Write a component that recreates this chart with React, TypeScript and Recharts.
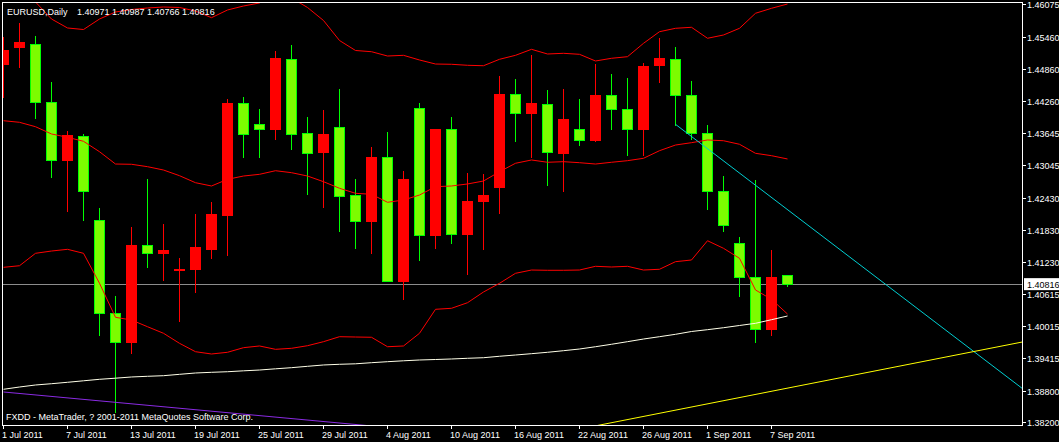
import React from 'react';
import { ComposedChart, Bar, Line, XAxis, YAxis, ReferenceLine } from 'recharts';

const dates = [
  '1 Jul 2011', '4 Jul 2011', '5 Jul 2011', '6 Jul 2011', '7 Jul 2011', '8 Jul 2011', '11 Jul 2011',
  '12 Jul 2011', '13 Jul 2011', '14 Jul 2011', '15 Jul 2011', '18 Jul 2011', '19 Jul 2011', '20 Jul 2011',
  '21 Jul 2011', '22 Jul 2011', '25 Jul 2011', '26 Jul 2011', '27 Jul 2011', '28 Jul 2011', '29 Jul 2011',
  '1 Aug 2011', '2 Aug 2011', '3 Aug 2011', '4 Aug 2011', '5 Aug 2011', '8 Aug 2011', '9 Aug 2011',
  '10 Aug 2011', '11 Aug 2011', '12 Aug 2011', '15 Aug 2011', '16 Aug 2011', '17 Aug 2011', '18 Aug 2011',
  '19 Aug 2011', '22 Aug 2011', '23 Aug 2011', '24 Aug 2011', '25 Aug 2011', '26 Aug 2011', '29 Aug 2011',
  '30 Aug 2011', '31 Aug 2011', '1 Sep 2011', '2 Sep 2011', '5 Sep 2011', '6 Sep 2011', '7 Sep 2011',
  '8 Sep 2011',
];

const opens = [
  1.44945, 1.45271, 1.4534, 1.44242, 1.43142, 1.43601, 1.42019, 1.40267, 1.39716, 1.41548,
  1.41397, 1.41073, 1.41088, 1.41478, 1.42105, 1.4421, 1.43827, 1.43726, 1.45052, 1.43658,
  1.43292, 1.43771, 1.42477, 1.41992, 1.43206, 1.40862, 1.44129, 1.41729, 1.4372, 1.41748,
  1.42369, 1.42633, 1.44393, 1.44027, 1.44204, 1.43274, 1.43733, 1.43513, 1.44374, 1.4411,
  1.43726, 1.44931, 1.45052, 1.44374, 1.43658, 1.42565, 1.41585, 1.40945, 1.39958, 1.40971,
];
const highs = [
  1.45472, 1.45742, 1.45497, 1.44619, 1.43696, 1.43639, 1.42245, 1.40593, 1.41893, 1.42797,
  1.41949, 1.41309, 1.42137, 1.42364, 1.44304, 1.44342, 1.44116, 1.45208, 1.45321, 1.43959,
  1.44097, 1.44487, 1.42797, 1.434, 1.43682, 1.42948, 1.44229, 1.43725, 1.43959, 1.42904,
  1.42891, 1.44737, 1.44675, 1.45133, 1.44474, 1.44492, 1.44304, 1.44963, 1.44775, 1.447,
  1.44982, 1.45453, 1.45284, 1.44643, 1.43809, 1.42853, 1.41704, 1.42778, 1.41459, 1.40987,
];
const lows = [
  1.44323, 1.44894, 1.43927, 1.42821, 1.42181, 1.42011, 1.39845, 1.38388, 1.39494, 1.41126,
  1.40881, 1.40108, 1.40655, 1.4129, 1.41352, 1.43198, 1.43198, 1.43537, 1.43349, 1.42501,
  1.42256, 1.41804, 1.41478, 1.4139, 1.4085, 1.40523, 1.41258, 1.41478, 1.41578, 1.40988,
  1.41465, 1.42143, 1.435, 1.43198, 1.42671, 1.42558, 1.43424, 1.435, 1.43726, 1.43236,
  1.43236, 1.44611, 1.43801, 1.43537, 1.42213, 1.41804, 1.40579, 1.39701, 1.39845, 1.40766,
];
const closes = [
  1.45227, 1.45365, 1.44234, 1.43142, 1.43607, 1.42558, 1.40267, 1.3972, 1.41553, 1.41397,
  1.41459, 1.41101, 1.41497, 1.42119, 1.4421, 1.43631, 1.43733, 1.45058, 1.43639, 1.43281,
  1.43626, 1.42471, 1.41992, 1.43193, 1.40862, 1.42778, 1.41729, 1.4372, 1.41748, 1.42382,
  1.42477, 1.44398, 1.44035, 1.4421, 1.43292, 1.43927, 1.43518, 1.44379, 1.4411, 1.43733,
  1.44907, 1.45058, 1.44366, 1.4365, 1.42558, 1.41917, 1.40937, 1.39958, 1.40945, 1.40816,
];

// bollinger bands as drawn on the chart
const bbUpper = [
  1.46659, 1.46565, 1.46132, 1.45811, 1.45642, 1.45613, 1.45811, 1.45943, 1.4599, 1.46019,
  1.46037, 1.46028, 1.45962, 1.45836, 1.45981, 1.46056, 1.46113, 1.4632, 1.46207, 1.46028,
  1.45783, 1.45406, 1.45218, 1.45195, 1.45114, 1.45127, 1.45039, 1.44963, 1.44958, 1.44939,
  1.44931, 1.45052, 1.45127, 1.4524, 1.45152, 1.45165, 1.45146, 1.4502, 1.45071, 1.45101,
  1.45353, 1.45572, 1.45636, 1.45655, 1.45448, 1.4551, 1.45636, 1.45919, 1.46013, 1.46094,
];
const bbMiddle = [
  1.43895, 1.43865, 1.43782, 1.43645, 1.43583, 1.43507, 1.43311, 1.43079, 1.43074, 1.43029,
  1.42966, 1.42859, 1.42727, 1.42665, 1.42791, 1.42853, 1.42885, 1.42953, 1.42916, 1.42853,
  1.42746, 1.42622, 1.42527, 1.42509, 1.42358, 1.42401, 1.42495, 1.42652, 1.42665, 1.42703,
  1.42759, 1.42934, 1.43093, 1.43155, 1.43112, 1.43123, 1.43104, 1.43079, 1.43112, 1.43142,
  1.43187, 1.4333, 1.43437, 1.43481, 1.43532, 1.43518, 1.43451, 1.43281, 1.43236, 1.43174,
];
const bbLower = [
  1.41133, 1.41163, 1.41397, 1.4144, 1.41472, 1.41397, 1.40832, 1.40191, 1.4014, 1.40014,
  1.3989, 1.39701, 1.39543, 1.395, 1.39532, 1.39619, 1.39651, 1.39588, 1.39607, 1.39656,
  1.39732, 1.39826, 1.3982, 1.39815, 1.39637, 1.39651, 1.3989, 1.40342, 1.40361, 1.40466,
  1.40668, 1.40832, 1.4102, 1.41082, 1.41077, 1.41077, 1.41082, 1.41152, 1.41139, 1.41152,
  1.41082, 1.41096, 1.41239, 1.41271, 1.41634, 1.41491, 1.41303, 1.40706, 1.4053, 1.40253,
];
const maSlow = [
  1.38835, 1.38878, 1.38916, 1.3894, 1.38967, 1.38995, 1.39023, 1.39044, 1.39067, 1.3908,
  1.39091, 1.39117, 1.39142, 1.39155, 1.39166, 1.39183, 1.39198, 1.39221, 1.39242, 1.39268,
  1.39293, 1.39306, 1.39315, 1.39336, 1.39355, 1.39372, 1.39387, 1.39396, 1.39406, 1.39419,
  1.3943, 1.39457, 1.39481, 1.39506, 1.39532, 1.39562, 1.39594, 1.39637, 1.39683, 1.39732,
  1.39782, 1.39826, 1.39871, 1.39924, 1.39958, 1.39995, 1.40037, 1.40078, 1.40146, 1.40216,
];

const priceTicks = [
  1.46075, 1.4546, 1.4486, 1.4426, 1.43645, 1.43045, 1.4243, 1.4183, 1.4123, 1.40615, 1.40015,
  1.39415, 1.388, 1.382,
];
const dateTicks = [0, 4, 8, 12, 16, 20, 24, 28, 32, 36, 40, 44, 48];
const bidPrice = 1.40816;

const cyanTrend = [{ x: 42, y: 1.43827 }, { x: 63.66, y: 1.38854 }];
const yellowTrend = [{ x: 37, y: 1.38146 }, { x: 63.66, y: 1.39725 }];
const purpleTrend = [{ x: 0, y: 1.38784 }, { x: 23, y: 1.38144 }];

const data = dates.map((date, i) => ({
  i,
  date,
  open: opens[i],
  high: highs[i],
  low: lows[i],
  close: closes[i],
  upper: bbUpper[i],
  middle: bbMiddle[i],
  lower: bbLower[i],
  ma: maSlow[i],
}));

const FONT = '"Liberation Sans", Arial, sans-serif';
const X_DOMAIN: [number, number] = [-0.09375, 63.65625];
const Y_DOMAIN: [number, number] = [1.381622, 1.461315];
const MARGIN = { top: 2, right: 0, bottom: 0, left: 2 };

const Candle = (props: any) => {
  const { x, y, width, height, payload } = props;
  const { open, close, high, low } = payload;
  const cx = x + width / 2;
  const py = (p: number) => (high === low ? y : y + ((high - p) / (high - low)) * height);
  const top = py(Math.max(open, close));
  const bot = py(Math.min(open, close));
  const down = close < open;
  const col = down ? '#00ff00' : '#ff0000';
  return (
    <g shapeRendering="crispEdges">
      <line x1={cx} x2={cx} y1={y} y2={y + height} stroke={col} strokeWidth={1} />
      {down ? (
        <rect x={cx - 5} y={top} width={10} height={Math.max(bot - top, 1)} fill="#7cfc00" stroke="#00ff00" strokeWidth={1} />
      ) : (
        <rect x={cx - 5.5} y={top - 0.5} width={11} height={Math.max(bot - top + 1, 1)} fill="#ff0000" />
      )}
    </g>
  );
};

const DateTick = (props: any) => {
  const { x, y, payload } = props;
  return (
    <text x={x - 1.5} y={y + 7} fill="#fff" fontSize={9} fontFamily={FONT} textAnchor="start">
      {dates[payload.value]}
    </text>
  );
};

const PriceTick = (props: any) => {
  const { x, y, payload } = props;
  return (
    <text x={x - 1} y={y + 3.5} fill="#fff" fontSize={9} fontFamily={FONT} textAnchor="start">
      {Number(payload.value).toFixed(5)}
    </text>
  );
};

const BidLabel = (props: any) => {
  const { viewBox } = props;
  if (!viewBox) return null;
  const x = viewBox.x + viewBox.width + 2;
  const y = viewBox.y;
  return (
    <g>
      <rect x={x} y={y - 6} width={40} height={12} fill="#fff" />
      <text x={x + 3} y={y + 3.5} fill="#000" fontSize={9} fontFamily={FONT}>
        {bidPrice.toFixed(5)}
      </text>
    </g>
  );
};

export default function App() {
  return (
    <div style={{ position: 'fixed', left: 0, top: 0, width: 1059, height: 442, background: '#000', overflow: 'hidden' }}>
      {/* bid line sits behind the candles, so it gets its own chart underneath */}
      <div style={{ position: 'absolute', left: 0, top: 0 }}>
        <ComposedChart width={1059} height={442} data={data} margin={MARGIN}>
          <XAxis dataKey="i" type="number" domain={X_DOMAIN} allowDataOverflow height={17} tick={false} axisLine={false} tickLine={false} />
          <YAxis orientation="right" type="number" domain={Y_DOMAIN} allowDataOverflow width={37} tick={false} axisLine={false} tickLine={false} />
          <ReferenceLine y={bidPrice} stroke="#8c8c8c" shapeRendering="crispEdges" label={<BidLabel />} />
        </ComposedChart>
      </div>
      <div style={{ position: 'absolute', left: 0, top: 0 }}>
        <ComposedChart width={1059} height={442} data={data} margin={MARGIN}>
          <XAxis
            dataKey="i"
            type="number"
            domain={X_DOMAIN}
            allowDataOverflow
            ticks={dateTicks}
            interval={0}
            height={17}
            axisLine={false}
            tickSize={4}
            tickLine={{ stroke: '#fff', shapeRendering: 'crispEdges' }}
            tick={<DateTick />}
          />
          <YAxis
            orientation="right"
            type="number"
            domain={Y_DOMAIN}
            allowDataOverflow
            ticks={priceTicks}
            interval={0}
            width={37}
            axisLine={false}
            tickSize={4}
            tickLine={{ stroke: '#fff', shapeRendering: 'crispEdges' }}
            tick={<PriceTick />}
          />
          <Bar dataKey={(d: any) => [d.low, d.high]} barSize={11} shape={(p: any) => <Candle {...p} />} isAnimationActive={false} />
          <Line dataKey="upper" type="linear" stroke="#ff0000" strokeWidth={1} dot={false} activeDot={false} isAnimationActive={false} />
          <Line dataKey="middle" type="linear" stroke="#ff0000" strokeWidth={1} dot={false} activeDot={false} isAnimationActive={false} />
          <Line dataKey="lower" type="linear" stroke="#ff0000" strokeWidth={1} dot={false} activeDot={false} isAnimationActive={false} />
          <Line dataKey="ma" type="linear" stroke="#ffffe8" strokeWidth={1} dot={false} activeDot={false} isAnimationActive={false} />
          <ReferenceLine segment={purpleTrend} stroke="#8a2be2" ifOverflow="hidden" />
          <ReferenceLine segment={cyanTrend} stroke="#00ced1" ifOverflow="hidden" />
          <ReferenceLine segment={yellowTrend} stroke="#ffff00" ifOverflow="hidden" />
        </ComposedChart>
      </div>
      <div
        style={{
          position: 'absolute', left: 2, top: 2, width: 1021, height: 424,
          border: '1px solid #fff', boxSizing: 'border-box', pointerEvents: 'none',
        }}
      />
      <svg width={1059} height={442} style={{ position: 'absolute', left: 0, top: 0, pointerEvents: 'none' }}>
        <text x={7} y={15} fill="#fff" fontSize={9} fontFamily={FONT}>EURUSD,Daily</text>
        <text x={77} y={15} fill="#fff" fontSize={9} fontFamily={FONT}>
          {[opens[49], highs[49], lows[49], closes[49]].map((v) => v.toFixed(5)).join(' ')}
        </text>
        <text x={6} y={420} fill="#fff" fontSize={9} fontFamily={FONT}>
          FXDD - MetaTrader, ? 2001-2011 MetaQuotes Software Corp.
        </text>
      </svg>
    </div>
  );
}
